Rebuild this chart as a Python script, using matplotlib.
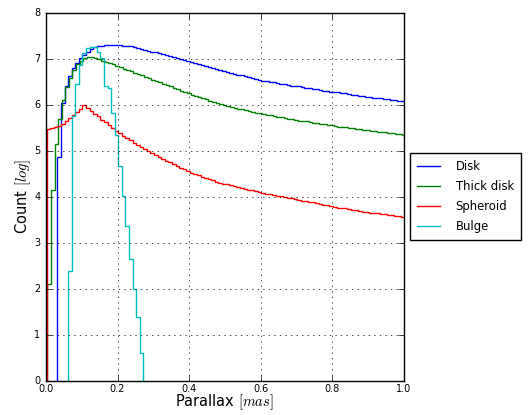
import numpy as np
import matplotlib
matplotlib.use("Agg")
import matplotlib.pyplot as plt

# log10 counts per parallax bin (mas), bin width 0.01
bin_width = 0.01

disk_start = 0.032
disk = [
    4.87, 6.05, 6.40, 6.62, 6.80, 6.92, 7.01, 7.09, 7.16, 7.21,
    7.25, 7.27, 7.29, 7.30, 7.30, 7.31, 7.30, 7.30, 7.29, 7.28,
    7.27, 7.25, 7.24, 7.22, 7.20, 7.18, 7.16, 7.14, 7.12, 7.10,
    7.08, 7.06, 7.04, 7.01, 6.99, 6.97, 6.95, 6.93, 6.91, 6.88,
    6.86, 6.84, 6.82, 6.80, 6.78, 6.76, 6.74, 6.72, 6.70, 6.68,
    6.66, 6.64, 6.62, 6.60, 6.58, 6.56, 6.54, 6.53, 6.51, 6.50,
    6.49, 6.47, 6.46, 6.45, 6.43, 6.42, 6.41, 6.40, 6.39, 6.37,
    6.36, 6.35, 6.34, 6.33, 6.31, 6.30, 6.29, 6.28, 6.27, 6.26,
    6.25, 6.24, 6.22, 6.21, 6.20, 6.19, 6.18, 6.17, 6.16, 6.15,
    6.14, 6.13, 6.12, 6.11, 6.10, 6.09, 6.08,
]

thick_start = 0.004
thick_disk = [
    2.10, 4.15, 5.14, 5.70, 6.10, 6.38, 6.58, 6.75, 6.88, 6.96,
    7.02, 7.04, 7.03, 7.01, 6.99, 6.96, 6.94, 6.91, 6.88, 6.85,
    6.82, 6.79, 6.76, 6.73, 6.70, 6.67, 6.64, 6.61, 6.58, 6.55,
    6.52, 6.49, 6.46, 6.43, 6.40, 6.37, 6.34, 6.31, 6.28, 6.25,
    6.22, 6.20, 6.17, 6.14, 6.12, 6.09, 6.07, 6.04, 6.02, 6.00,
    5.98, 5.96, 5.94, 5.92, 5.90, 5.88, 5.87, 5.85, 5.83, 5.82,
    5.80, 5.79, 5.77, 5.76, 5.74, 5.73, 5.72, 5.70, 5.69, 5.68,
    5.66, 5.65, 5.64, 5.62, 5.61, 5.60, 5.59, 5.58, 5.57, 5.56,
    5.54, 5.53, 5.52, 5.51, 5.50, 5.49, 5.48, 5.47, 5.46, 5.45,
    5.44, 5.43, 5.42, 5.41, 5.40, 5.39, 5.38, 5.37, 5.36, 5.35,
]

spheroid_start = 0.002
spheroid = [
    5.47, 5.50, 5.51, 5.54, 5.59, 5.65, 5.72, 5.79, 5.85, 5.91,
    6.00, 5.93, 5.87, 5.81, 5.75, 5.68, 5.62, 5.56, 5.50, 5.44,
    5.39, 5.33, 5.28, 5.23, 5.18, 5.13, 5.08, 5.04, 4.99, 4.95,
    4.91, 4.87, 4.83, 4.79, 4.75, 4.71, 4.67, 4.63, 4.60, 4.56,
    4.53, 4.50, 4.47, 4.44, 4.41, 4.38, 4.36, 4.33, 4.31, 4.29,
    4.27, 4.25, 4.23, 4.21, 4.19, 4.17, 4.16, 4.14, 4.12, 4.11,
    4.09, 4.07, 4.06, 4.04, 4.03, 4.01, 4.00, 3.98, 3.97, 3.95,
    3.94, 3.92, 3.91, 3.89, 3.88, 3.86, 3.85, 3.83, 3.82, 3.80,
    3.79, 3.77, 3.76, 3.75, 3.73, 3.72, 3.71, 3.70, 3.68, 3.67,
    3.66, 3.65, 3.64, 3.63, 3.62, 3.61, 3.60, 3.59, 3.58, 3.57,
]

bulge_start = 0.062
bulge = [
    2.40, 5.75, 6.45, 6.87, 7.12, 7.24, 7.26, 7.25, 7.16, 7.02,
    6.42, 6.36, 5.82, 5.35, 4.68, 4.01, 3.36, 2.66, 1.99, 1.40,
    0.60,
]

labels = ["Disk", "Thick disk", "Spheroid", "Bulge"]
colors = ["b", "g", "r", "c"]

plt.style.use("classic")
plt.rcParams["mathtext.fontset"] = "cm"

fig = plt.figure(figsize=(5.28, 4.15), dpi=100, facecolor="white")
ax = fig.add_axes([0.087, 0.082, 0.678, 0.887])

series = [(disk_start, disk), (thick_start, thick_disk),
          (spheroid_start, spheroid), (bulge_start, bulge)]
for (start, vals), lab, col in zip(series, labels, colors):
    edges = start + bin_width * np.arange(len(vals) + 1)
    ax.stairs(vals, edges, baseline=0, color=col, label=lab, linewidth=1.0)

ax.set_xlim(0, 1.0)
ax.set_ylim(0, 8)
ax.set_xticks(np.arange(0, 1.01, 0.2))
ax.set_yticks(np.arange(0, 9, 1))
ax.tick_params(labelsize=7)
ax.tick_params(axis="x", pad=2)
ax.grid(True)
ax.set_xlabel(r"Parallax $[mas]$", fontsize=10.5, labelpad=-1)
ax.set_ylabel(r"Count $[log]$", fontsize=10.5, labelpad=1)

ax.legend(loc="center left", bbox_to_anchor=(1.017, 0.5), fontsize=8.4,
          handletextpad=1.3, labelspacing=0.6, borderpad=0.6,
          borderaxespad=0)

fig.savefig("out.png", dpi=100, facecolor="white")
